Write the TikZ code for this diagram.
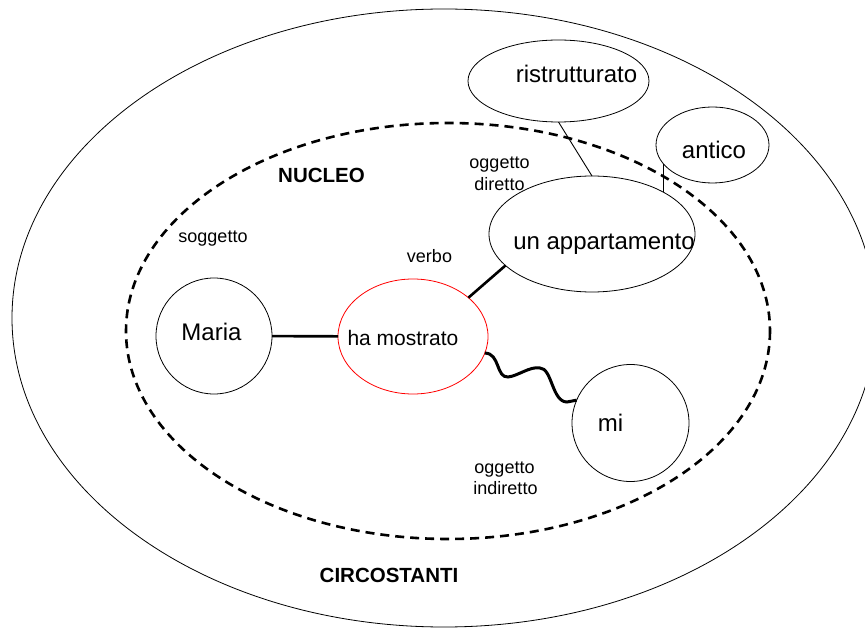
\documentclass[tikz,border=0pt]{standalone}
\usepackage{fontspec}
\setmainfont{Liberation Sans}
\usetikzlibrary{shapes.geometric}
\begin{document}
\begin{tikzpicture}[x=1pt,y=-1pt,
  bubble/.style={draw=black, line width=0.8pt, inner sep=0pt, outer sep=0pt},
  oval/.style={bubble, ellipse},
  circ/.style={bubble, circle},
  bigtext/.style={font=\fontsize{24}{28}\selectfont, inner sep=0pt, anchor=base},
  smalltext/.style={font=\fontsize{18}{21}\selectfont, inner sep=0pt, anchor=base},
  zonetext/.style={font=\bfseries\fontsize{20.5}{24}\selectfont, inner sep=0pt, anchor=base},
  link/.style={line width=2.6pt},
  thinlink/.style={line width=0.9pt},
]
\useasboundingbox (0,0) rectangle (865,628);
\begin{scope}
  \clip (0,0) rectangle (865,628);
  \draw[line width=0.8pt] (444,318) ellipse [x radius=432, y radius=309];
\end{scope}
\draw[line width=2.6pt, dash pattern=on 9pt off 6pt] (448,331) ellipse [x radius=322, y radius=208];

% nodes
\node[circ, minimum size=116pt] (maria) at (214,336) {};
\node[oval, draw=red, minimum width=150pt, minimum height=115pt] (ha) at (413,336.5) {};
\node[oval, minimum width=206pt, minimum height=116pt] (ap) at (592,234) {};
\node[oval, minimum width=181pt, minimum height=82pt] (rs) at (558.5,81) {};
\node[oval, minimum width=113pt, minimum height=76pt] (an) at (712.5,145) {};
\node[circ, minimum size=117pt] (mi) at (630.5,423) {};

% node texts
\node[bigtext] (tmaria) at (211.5,341) {Maria};
\node[bigtext, font=\fontsize{21}{25}\selectfont] (tha) at (403,346) {ha mostrato};
\node[bigtext] (tap) at (604,250) {un appartamento};
\node[bigtext] (trs) at (576.5,83) {ristrutturato};
\node[bigtext] (tan) at (714,159) {antico};
\node[bigtext] (tmi) at (610.5,431) {mi};

% labels
\node[zonetext] (nucleo) at (321.5,183) {NUCLEO};
\node[zonetext] (circ) at (389,582) {CIRCOSTANTI};
\node[smalltext] (sogg) at (213,243) {soggetto};
\node[smalltext] (verbo) at (429.5,263) {verbo};
\node[smalltext] (od1) at (499.5,169) {oggetto};
\node[smalltext] (od2) at (499.5,191) {diretto};
\node[smalltext] (oi1) at (504.5,473) {oggetto};
\node[smalltext] (oi2) at (505.5,494) {indiretto};

% connectors
\draw[link] (maria) -- (ha);
\draw[link] (ha.35) -- (ap.200.4);
\draw[thinlink] (rs.south) -- (ap.north);
\draw[thinlink] (an.201) -- (an.201 |- ap.31);
\draw[line width=3pt] (ha.347) .. controls (500,353) and (496,378) .. (508,377)
  .. controls (518,376) and (530,366) .. (540,368)
  .. controls (552,368) and (552,402) .. (567,402) -- (mi.157);
\end{tikzpicture}
\end{document}
